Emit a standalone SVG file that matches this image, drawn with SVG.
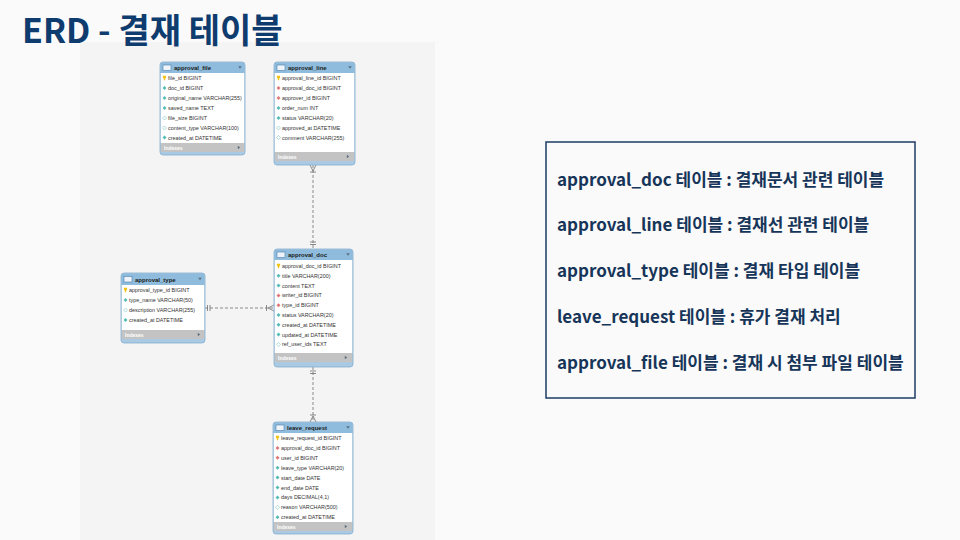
<svg xmlns="http://www.w3.org/2000/svg" xmlns:xlink="http://www.w3.org/1999/xlink" width="960" height="540" viewBox="0 0 960 540">
<style>
.tb{fill:#a9cae2;stroke:#86afcf;stroke-width:0.8}
.hd{fill:#8fbcdc}
.bd{fill:#ffffff}
.ix{fill:#c3c3c3}
.ht{font-family:'Liberation Sans',sans-serif;font-size:6px;font-weight:bold;fill:#1a1a1a}
.ct{font-family:'Liberation Sans',sans-serif;font-size:5.4px;fill:#333333}
.it{font-family:'Liberation Sans',sans-serif;font-size:5px;font-weight:bold;fill:#ffffff}
.n{fill:#55bdb5}
.f{fill:#e07777}
.o{fill:#ffffff;stroke:#7cc4bd;stroke-width:0.6}
.k{fill:#f0c419}
.ico{fill:#eef4fa;stroke:#4f7fae;stroke-width:0.6}
.arr{fill:#5a6f84}
.conn line,.conn path{stroke:#6e6e6e;stroke-width:0.8;fill:none}
.dash{stroke-dasharray:3 2}
.title{font-family:'Noto Sans CJK KR','Noto Sans',sans-serif;font-size:34px;font-weight:bold;fill:#0f3c6e}
.desc{font-family:'Noto Sans CJK KR','Noto Sans',sans-serif;font-size:17px;font-weight:bold;fill:#163559}
</style>
<defs>
<polygon id="dm" points="0,-2 2,0 0,2 -2,0"/>
<path id="key" d="M-1.6,-2.2 h3.2 v2.4 h-0.9 v2 h-1.4 v-2 h-0.9 z"/>
<polygon id="down" points="-1.8,-1.2 1.8,-1.2 0,1.2"/>
<polygon id="right" points="-1.2,-1.8 1.2,0 -1.2,1.8"/>
</defs>

<rect x="0" y="0" width="960" height="540" fill="#fafafa"/>
<rect x="80" y="42" width="355" height="498" fill="#f4f4f4"/>

<text class="title" x="22" y="43">ERD - 결재 테이블</text>

<g id="conn" class="conn">
  <line class="dash" x1="313" y1="165" x2="313" y2="249"/>
  <path d="M310,165 L313,171 L316,165 M310,172 H316"/>
  <path d="M310,242 H316 M310,244.5 H316"/>
  <line class="dash" x1="205" y1="308" x2="274" y2="308"/>
  <path d="M207.5,305 V311 M210,305 V311"/>
  <path d="M274,305 L268,308 L274,311 M266.5,305 V311"/>
  <line class="dash" x1="313" y1="367" x2="313" y2="422"/>
  <path d="M310,371 H316 M310,373.5 H316"/>
  <path d="M310,422 L313,416 L316,422 M310,415 H316"/>
</g>

<g id="approval_file">
  <rect class="tb" x="160" y="62" width="85" height="93" rx="3"/>
  <path class="hd" d="M163,62.4 H242 A2.6,2.6 0 0 1 244.6,65 V73 H160.4 V65 A2.6,2.6 0 0 1 163,62.4 Z"/>
  <rect class="bd" x="160.8" y="73" width="83.4" height="70"/>
  <rect class="ix" x="160.8" y="143" width="83.4" height="9"/>
  <rect class="ico" x="163" y="65" width="8" height="5.5"/>
  <text class="ht" x="174" y="70">approval_file</text>
  <use href="#down" class="arr" x="240" y="67.5"/>
  <use href="#key" class="k" x="164.5" y="78"/>
  <text class="ct" x="168" y="80">file_id BIGINT</text>
  <use href="#dm" class="n" x="164.5" y="88"/>
  <text class="ct" x="168" y="90">doc_id BIGINT</text>
  <use href="#dm" class="n" x="164.5" y="98"/>
  <text class="ct" x="168" y="100">original_name VARCHAR(255)</text>
  <use href="#dm" class="n" x="164.5" y="108"/>
  <text class="ct" x="168" y="110">saved_name TEXT</text>
  <use href="#dm" class="o" x="164.5" y="118"/>
  <text class="ct" x="168" y="120">file_size BIGINT</text>
  <use href="#dm" class="o" x="164.5" y="128"/>
  <text class="ct" x="168" y="130">content_type VARCHAR(100)</text>
  <use href="#dm" class="n" x="164.5" y="137.5"/>
  <text class="ct" x="168" y="139.5">created_at DATETIME</text>
  <text class="it" x="164" y="149.5">Indexes</text>
  <use href="#right" class="arr" x="239" y="147.5"/>
</g>

<g id="approval_line">
  <rect class="tb" x="274" y="62" width="81" height="103" rx="3"/>
  <path class="hd" d="M277,62.4 H352 A2.6,2.6 0 0 1 354.6,65 V73 H274.4 V65 A2.6,2.6 0 0 1 277,62.4 Z"/>
  <rect class="bd" x="274.8" y="73" width="79.4" height="79"/>
  <rect class="ix" x="274.8" y="152" width="79.4" height="9"/>
  <rect class="ico" x="277" y="65" width="8" height="5.5"/>
  <text class="ht" x="288" y="70">approval_line</text>
  <use href="#down" class="arr" x="350" y="67.5"/>
  <use href="#key" class="k" x="278.5" y="78"/>
  <text class="ct" x="282" y="80">approval_line_id BIGINT</text>
  <use href="#dm" class="f" x="278.5" y="88"/>
  <text class="ct" x="282" y="90">approval_doc_id BIGINT</text>
  <use href="#dm" class="f" x="278.5" y="98"/>
  <text class="ct" x="282" y="100">approver_id BIGINT</text>
  <use href="#dm" class="n" x="278.5" y="108"/>
  <text class="ct" x="282" y="110">order_num INT</text>
  <use href="#dm" class="n" x="278.5" y="118"/>
  <text class="ct" x="282" y="120">status VARCHAR(20)</text>
  <use href="#dm" class="o" x="278.5" y="128"/>
  <text class="ct" x="282" y="130">approved_at DATETIME</text>
  <use href="#dm" class="o" x="278.5" y="137.5"/>
  <text class="ct" x="282" y="139.5">comment VARCHAR(255)</text>
  <text class="it" x="278" y="158.5">Indexes</text>
  <use href="#right" class="arr" x="348" y="156.5"/>
</g>

<g id="approval_type">
  <rect class="tb" x="121" y="273" width="84" height="70" rx="3"/>
  <path class="hd" d="M124,273.4 H202 A2.6,2.6 0 0 1 204.6,276 V285 H121.4 V276 A2.6,2.6 0 0 1 124,273.4 Z"/>
  <rect class="bd" x="121.8" y="285" width="82.4" height="45"/>
  <rect class="ix" x="121.8" y="330" width="82.4" height="9"/>
  <rect class="ico" x="124" y="276.5" width="8" height="5.5"/>
  <text class="ht" x="135" y="281.5">approval_type</text>
  <use href="#down" class="arr" x="200" y="279"/>
  <use href="#key" class="k" x="125.5" y="290"/>
  <text class="ct" x="129" y="292">approval_type_id BIGINT</text>
  <use href="#dm" class="n" x="125.5" y="300"/>
  <text class="ct" x="129" y="302">type_name VARCHAR(50)</text>
  <use href="#dm" class="o" x="125.5" y="310"/>
  <text class="ct" x="129" y="312">description VARCHAR(255)</text>
  <use href="#dm" class="n" x="125.5" y="320"/>
  <text class="ct" x="129" y="322">created_at DATETIME</text>
  <text class="it" x="125" y="336.5">Indexes</text>
  <use href="#right" class="arr" x="199" y="334.5"/>
</g>

<g id="approval_doc">
  <rect class="tb" x="274" y="249" width="79" height="118" rx="3"/>
  <path class="hd" d="M277,249.4 H350 A2.6,2.6 0 0 1 352.6,252 V260 H274.4 V252 A2.6,2.6 0 0 1 277,249.4 Z"/>
  <rect class="bd" x="274.8" y="260" width="77.4" height="93"/>
  <rect class="ix" x="274.8" y="353" width="77.4" height="9"/>
  <rect class="ico" x="277" y="252" width="8" height="5.5"/>
  <text class="ht" x="288" y="257">approval_doc</text>
  <use href="#down" class="arr" x="348" y="254.5"/>
  <use href="#key" class="k" x="278.5" y="266"/>
  <text class="ct" x="282" y="268">approval_doc_id BIGINT</text>
  <use href="#dm" class="n" x="278.5" y="275.8"/>
  <text class="ct" x="282" y="277.8">title VARCHAR(200)</text>
  <use href="#dm" class="n" x="278.5" y="285.6"/>
  <text class="ct" x="282" y="287.6">content TEXT</text>
  <use href="#dm" class="f" x="278.5" y="295.4"/>
  <text class="ct" x="282" y="297.4">writer_id BIGINT</text>
  <use href="#dm" class="f" x="278.5" y="305.2"/>
  <text class="ct" x="282" y="307.2">type_id BIGINT</text>
  <use href="#dm" class="n" x="278.5" y="315"/>
  <text class="ct" x="282" y="317">status VARCHAR(20)</text>
  <use href="#dm" class="n" x="278.5" y="324.8"/>
  <text class="ct" x="282" y="326.8">created_at DATETIME</text>
  <use href="#dm" class="n" x="278.5" y="334.6"/>
  <text class="ct" x="282" y="336.6">updated_at DATETIME</text>
  <use href="#dm" class="o" x="278.5" y="344.4"/>
  <text class="ct" x="282" y="346.4">ref_user_ids TEXT</text>
  <text class="it" x="278" y="359.5">Indexes</text>
  <use href="#right" class="arr" x="346" y="357.5"/>
</g>

<g id="leave_request">
  <rect class="tb" x="273" y="422" width="80" height="112" rx="3"/>
  <path class="hd" d="M276,422.4 H350 A2.6,2.6 0 0 1 352.6,425 V433 H273.4 V425 A2.6,2.6 0 0 1 276,422.4 Z"/>
  <rect class="bd" x="273.8" y="433" width="78.4" height="89"/>
  <rect class="ix" x="273.8" y="522" width="78.4" height="9"/>
  <rect class="ico" x="276" y="425" width="8" height="5.5"/>
  <text class="ht" x="287" y="430">leave_request</text>
  <use href="#down" class="arr" x="348" y="427.5"/>
  <use href="#key" class="k" x="277.5" y="438"/>
  <text class="ct" x="281" y="440">leave_request_id BIGINT</text>
  <use href="#dm" class="f" x="277.5" y="447.9"/>
  <text class="ct" x="281" y="449.9">approval_doc_id BIGINT</text>
  <use href="#dm" class="f" x="277.5" y="457.8"/>
  <text class="ct" x="281" y="459.8">user_id BIGINT</text>
  <use href="#dm" class="n" x="277.5" y="467.7"/>
  <text class="ct" x="281" y="469.7">leave_type VARCHAR(20)</text>
  <use href="#dm" class="n" x="277.5" y="477.6"/>
  <text class="ct" x="281" y="479.6">start_date DATE</text>
  <use href="#dm" class="n" x="277.5" y="487.5"/>
  <text class="ct" x="281" y="489.5">end_date DATE</text>
  <use href="#dm" class="n" x="277.5" y="497.4"/>
  <text class="ct" x="281" y="499.4">days DECIMAL(4,1)</text>
  <use href="#dm" class="o" x="277.5" y="507.3"/>
  <text class="ct" x="281" y="509.3">reason VARCHAR(500)</text>
  <use href="#dm" class="n" x="277.5" y="517.2"/>
  <text class="ct" x="281" y="519.2">created_at DATETIME</text>
  <text class="it" x="277" y="528.5">Indexes</text>
  <use href="#right" class="arr" x="346" y="526.5"/>
</g>

<g id="description">
  <rect x="546" y="142" width="369" height="256" fill="none" stroke="#1d3b63" stroke-width="1.5"/>
  <text class="desc" x="557" y="186">approval_doc 테이블 : 결재문서 관련 테이블</text>
  <text class="desc" x="557" y="231">approval_line 테이블 : 결재선 관련 테이블</text>
  <text class="desc" x="557" y="277">approval_type 테이블 : 결재 타입 테이블</text>
  <text class="desc" x="557" y="323">leave_request 테이블 : 휴가 결재 처리</text>
  <text class="desc" x="557" y="369">approval_file 테이블 : 결재 시 첨부 파일 테이블</text>
</g>
</svg>
